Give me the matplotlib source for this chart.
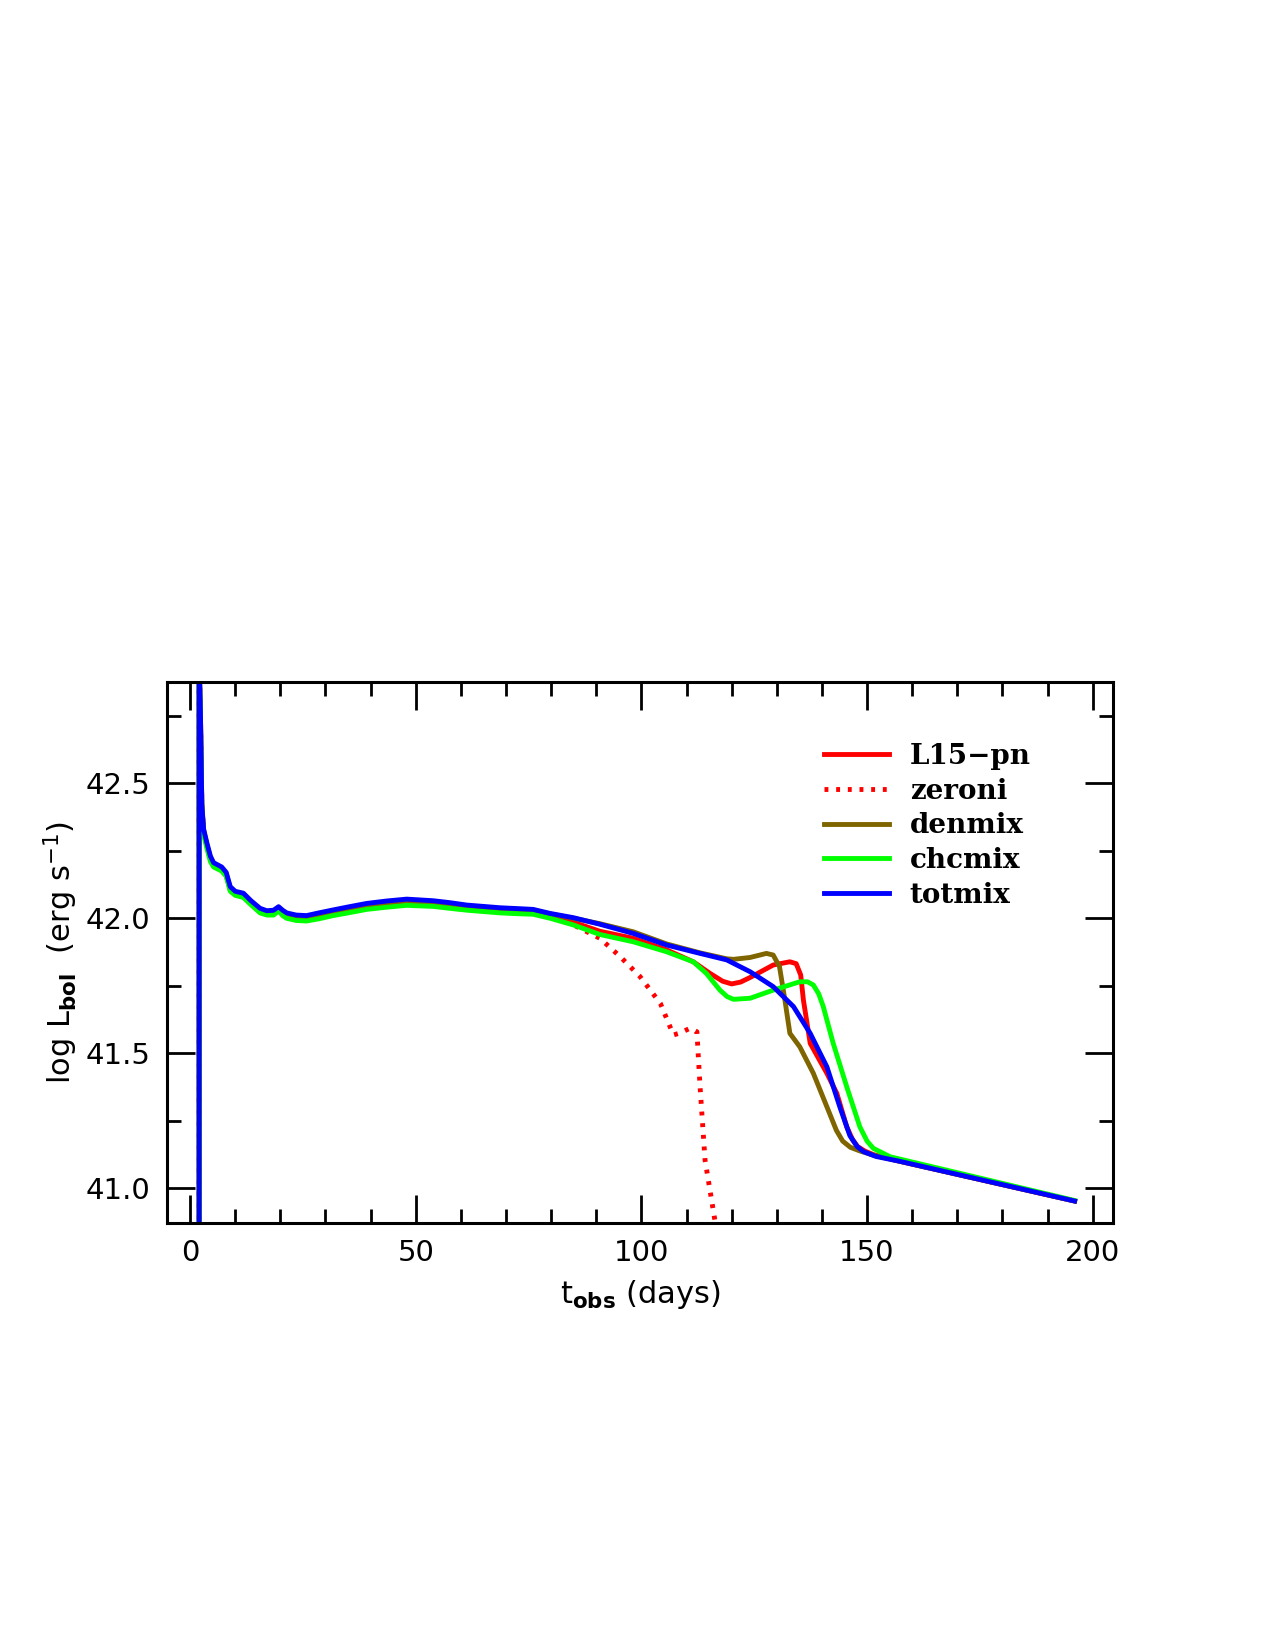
import matplotlib
matplotlib.use("Agg")
import matplotlib.pyplot as plt

# plateau part (days), shared time grid
t_early = [2.0, 2.0, 2.3, 2.6, 3.0, 3.7, 4.5, 5.2, 7.0, 8.0, 8.9, 10.0, 11.8, 13.5,
           15.5, 17.0, 18.5, 19.6, 20.5, 21.4, 23.5, 25.8, 28.5, 31.7, 35.0, 39.1,
           43.5, 48.0, 53.9, 57.5, 61.3, 65.0, 68.7, 72.5, 76.0, 79.8, 85.0, 90.8]

totmix_early = [40.8, 42.95, 42.75, 42.42, 42.33, 42.28, 42.23, 42.206, 42.19, 42.17,
                42.117, 42.10, 42.093, 42.065, 42.037, 42.028, 42.03, 42.043, 42.03,
                42.02, 42.012, 42.01, 42.02, 42.031, 42.042, 42.055, 42.064, 42.071,
                42.065, 42.058, 42.049, 42.044, 42.039, 42.036, 42.033, 42.018, 42.002, 41.978]
l15_early = [40.8, 42.95, 42.74, 42.41, 42.32, 42.27, 42.22, 42.195, 42.18, 42.16,
             42.105, 42.09, 42.082, 42.055, 42.027, 42.02, 42.02, 42.035, 42.022,
             42.012, 42.003, 42.0, 42.01, 42.021, 42.032, 42.045, 42.054, 42.061,
             42.055, 42.048, 42.04, 42.034, 42.029, 42.026, 42.023, 42.008, 41.985, 41.952]
denmix_early = [40.8, 42.95, 42.745, 42.415, 42.325, 42.275, 42.225, 42.2, 42.185, 42.165,
                42.11, 42.095, 42.087, 42.06, 42.032, 42.024, 42.025, 42.039, 42.026,
                42.016, 42.007, 42.005, 42.015, 42.026, 42.037, 42.05, 42.059, 42.066,
                42.06, 42.053, 42.045, 42.04, 42.035, 42.032, 42.03, 42.016, 42.0, 41.98]
chcmix_early = [40.8, 42.95, 42.73, 42.40, 42.31, 42.26, 42.21, 42.19, 42.175, 42.155,
                42.10, 42.085, 42.077, 42.05, 42.02, 42.012, 42.012, 42.028, 42.01,
                42.0, 41.992, 41.99, 41.998, 42.01, 42.02, 42.033, 42.041, 42.048,
                42.044, 42.037, 42.03, 42.025, 42.02, 42.017, 42.015, 42.0, 41.975, 41.940]

# late part
totmix_t = [98.2, 105.6, 113.0, 118.9, 124.1, 129.2, 133.7, 137.4, 141.1, 144.0,
            146.2, 147.8, 149.2, 152.0, 157.3, 196.0]
totmix_y = [41.944, 41.901, 41.870, 41.846, 41.802, 41.747, 41.673, 41.574, 41.45,
            41.30, 41.195, 41.155, 41.136, 41.118, 41.10, 40.953]

denmix_t = [98.2, 105.6, 113.0, 118.9, 120.4, 124.1, 127.7, 129.2, 130.6, 131.8,
            132.9, 135.1, 138.1, 141.1, 143.2, 144.6, 146.3, 148.5, 151.4, 157.3, 196.0]
denmix_y = [41.95, 41.905, 41.872, 41.85, 41.848, 41.855, 41.870, 41.864, 41.821,
            41.697, 41.574, 41.524, 41.426, 41.302, 41.215, 41.175, 41.152, 41.138,
            41.123, 41.10, 40.953]

l15_t = [98.2, 105.6, 111.5, 115.2, 118.0, 120.0, 122.0, 124.1, 129.2, 132.9, 134.3,
         135.3, 135.9, 137.4, 141.1, 143.3, 145.5, 146.8, 147.9, 149.5, 151.4, 157.3, 196.0]
l15_y = [41.926, 41.883, 41.839, 41.796, 41.767, 41.757, 41.764, 41.781, 41.827,
         41.839, 41.832, 41.79, 41.697, 41.537, 41.426, 41.352, 41.228, 41.18,
         41.155, 41.138, 41.125, 41.10, 40.953]

chcmix_t = [98.2, 105.6, 111.5, 114.4, 117.4, 119.0, 120.4, 124.1, 129.2, 135.1, 136.8,
            138.1, 139.3, 140.3, 142.5, 145.5, 148.4, 150.0, 151.4, 155.1, 196.0]
chcmix_y = [41.913, 41.876, 41.839, 41.796, 41.734, 41.71, 41.70, 41.704, 41.734,
            41.765, 41.765, 41.753, 41.72, 41.673, 41.537, 41.376, 41.228, 41.175,
            41.148, 41.117, 40.955]

zeroni_t = [85.0, 90.8, 95.3, 99.7, 104.2, 107.1, 108.5, 110.8, 112.3, 113.0, 114.1,
            116.3, 117.0]
zeroni_y = [41.975, 41.926, 41.858, 41.784, 41.685, 41.568, 41.575, 41.593, 41.580,
            41.376, 41.105, 40.88, 40.80]

# zeroni is identical to L15-pn until ~80 d
zeroni_early_n = 36

plt.rcParams['font.family'] = ['DejaVu Sans']

fig = plt.figure(figsize=(12.75, 16.5), dpi=100)
ax = fig.add_axes([0.1307, 0.259, 0.7426, 0.3275])

ax.plot(t_early + l15_t, l15_early + l15_y, color='#ff0000', lw=3.5, label='L15\u2212pn')
ax.plot(t_early[:zeroni_early_n] + zeroni_t, l15_early[:zeroni_early_n] + zeroni_y,
        color='#ff0000', lw=3.5, ls=(0, (0.8, 1.6)), label='zeroni')
ax.plot(t_early + denmix_t, denmix_early + denmix_y, color='#7f6500', lw=3.5, label='denmix')
ax.plot(t_early + chcmix_t, chcmix_early + chcmix_y, color='#00ff00', lw=3.5, label='chcmix')
ax.plot(t_early + totmix_t, totmix_early + totmix_y, color='#0000ff', lw=3.5, label='totmix')

ax.set_xticks([0, 50, 100, 150, 200])
ax.set_xticks(range(0, 205, 10), minor=True)
ax.set_yticks([41.0, 41.5, 42.0, 42.5])
ax.set_yticks([40.75 + 0.25 * i for i in range(9)], minor=True)
ax.set_yticklabels(['41.0', '41.5', '42.0', '42.5'])
ax.set_xlim(-5.2, 204.6)
ax.set_ylim(40.873, 42.874)
ax.tick_params(which='both', direction='in', top=True, right=True, width=2, labelsize=21)
ax.tick_params(which='major', length=20, pad=12)
ax.tick_params(which='minor', length=10)
for s in ax.spines.values():
    s.set_linewidth(2.2)

ax.set_xlabel(r'$\mathregular{t_{\bf obs}}$ (days)', fontsize=22, labelpad=8)
ax.set_ylabel(r'log $\mathregular{L_{\bf bol}}$  (erg $\mathregular{s^{-1}}$)', fontsize=22, labelpad=4)

leg = ax.legend(loc='upper left', bbox_to_anchor=(0.694, 0.888), frameon=False,
                borderpad=0, borderaxespad=0, handlelength=2.35, handletextpad=0.75,
                labelspacing=0.28, prop={'family': 'DejaVu Serif', 'size': 20, 'weight': 'bold'})

fig.savefig('out.png', dpi=100)
